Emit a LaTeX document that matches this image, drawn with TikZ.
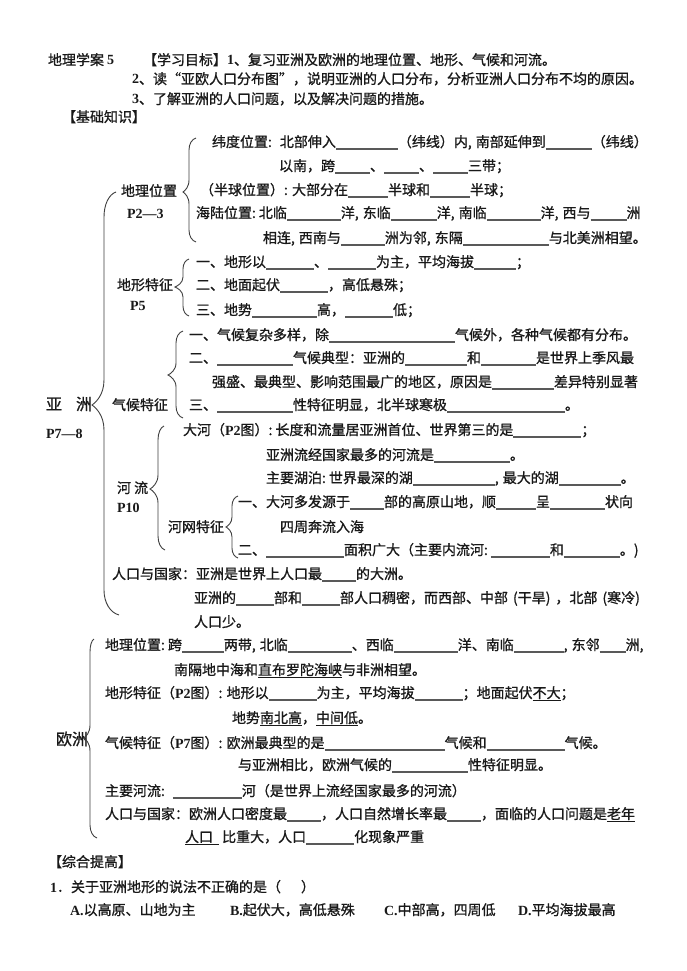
\documentclass[tikz,border=0pt]{standalone}
\usepackage{fontspec}
\setmainfont{Noto Sans CJK SC}[FakeBold=1]
\newfontfamily\latfont{Liberation Serif}[BoldFont={Liberation Serif Bold}]
\newcommand{\la}[1]{{\latfont\bfseries #1}}
\newcommand{\blk}[1]{\textcolor{black!65}{\rule[-2.5pt]{#1pt}{1.1pt}}}
\newcommand{\unl}[1]{\underline{#1}}
\newcommand{\cm}{,\hspace{4pt}}
\newcommand{\cl}{:\hspace{3pt}}
% left brace: end x, top y, stem x, tip x, tip y, bottom y, bottom end x, radius
\newcommand{\leftbr}[8]{%
  \draw[brace] (#1,#2) .. controls ({#3+0.4*(#1-#3)},{#2+0.1*#8}) and (#3,{#2+0.5*#8}) .. (#3,{#2+#8})
    -- (#3,{#5-#8}) .. controls (#3,{#5-0.4*#8}) and ({#4+0.3*(#3-#4)},{#5-0.1*#8}) .. (#4,#5)
    .. controls ({#4+0.3*(#3-#4)},{#5+0.1*#8}) and (#3,{#5+0.4*#8}) .. (#3,{#5+#8})
    -- (#3,{#6-#8}) .. controls (#3,{#6-0.5*#8}) and ({#3+0.4*(#7-#3)},{#6-0.1*#8}) .. (#7,#6);}
\tikzset{
  txt/.style={anchor=base west,inner sep=0pt,outer sep=0pt,font=\fontsize{14}{14}\selectfont,text=black!90},
  big/.style={txt,font=\fontsize{16}{16}\selectfont},
  brace/.style={draw=black!75,line width=0.9pt},
}
\begin{document}
\begin{tikzpicture}[x=1pt,y=-1pt]
  \useasboundingbox[fill=white] (0,0) rectangle (687,971);
  % head
  \node[txt] (title) at (48,65) {地理学案 \la{5}};
  \node[txt] (goal1) at (143,65) {【学习目标】\la{1}、复习亚洲及欧洲的地理位置、地形、气候和河流。};
  \node[txt] (goal2) at (132,84) {\la{2}、读“亚欧人口分布图”，说明亚洲的人口分布，分析亚洲人口分布不均的原因。};
  \node[txt] (goal3) at (132,104) {\la{3}、了解亚洲的人口问题，以及解决问题的措施。};
  \node[txt] (basic) at (62,122) {【基础知识】};
  % asia
  \node[big] (asia) at (46,410) {亚\hspace{14pt}洲};
  \node[txt] (asiap) at (46,438) {\la{P7—8}};
  \leftbr{116}{192}{104}{92}{405}{615}{119}{25}
  % position
  \node[txt] (pos) at (121,196) {地理位置};
  \node[txt] (posp) at (127,218) {\la{P2—3}};
  \leftbr{196}{138}{189}{183}{192}{242}{196}{12}
  \node[txt] (lat1) at (212,147) {纬度位置\cl\hspace{5pt}北部伸入\blk{62}（纬线）内,\hspace{4pt}南部延伸到\blk{46}（纬线）};
  \node[txt] (lat2) at (279,171) {以南，跨\blk{35}、\blk{35}、\blk{35}三带；};
  \node[txt] (hemi) at (200,195) {（半球位置）: 大部分在\blk{40}半球和\blk{40}半球；};
  \node[txt] (sea1) at (196,218) {海陆位置\cl 北临\blk{54}洋\cm 东临\blk{46}洋\cm 南临\blk{54}洋\cm 西与\blk{36}洲};
  \node[txt] (sea2) at (263,243) {相连\cm 西南与\blk{44}洲为邻\cm 东隔\blk{86}与北美洲相望。};
  % terrain
  \node[txt] (ter) at (117,290) {地形特征};
  \node[txt] (terp) at (130,310) {\la{P5}};
  \leftbr{189}{259}{183}{175}{287}{316}{189}{10}
  \node[txt] (ter1) at (196,267) {一、地形以\blk{48}、\blk{48}为主，平均海拔\blk{42}；};
  \node[txt] (ter2) at (196,290) {二、地面起伏\blk{48}，高低悬殊；};
  \node[txt] (ter3) at (196,315) {三、地势\blk{65}高，\blk{48}低；};
  % climate
  \node[txt] (cli) at (112,410) {气候特征};
  \leftbr{183}{331}{176}{168}{375}{418}{183}{12}
  \node[txt] (cli1) at (189,340) {一、气候复杂多样，除\blk{126}气候外，各种气候都有分布。};
  \node[txt] (cli2) at (189,363) {二、\blk{76}气候典型：亚洲的\blk{62}和\blk{55}是世界上季风最};
  \node[txt] (cli3) at (212,387) {强盛、最典型、影响范围最广的地区，原因是\blk{62}差异特别显著};
  \node[txt] (cli4) at (189,410) {三、\blk{76}性特征明显，北半球寒极\blk{118}。};
  % rivers
  \node[txt] (riv) at (117,493) {河 流};
  \node[txt] (rivp) at (117,512) {\la{P10}};
  \leftbr{164}{426}{158}{150}{489}{550}{165}{14}
  \node[txt] (riv1) at (183,435) {大河（\la{P2}图）\cl 长度和流量居亚洲首位、世界第三的是\blk{68}；};
  \node[txt] (riv2) at (266,460) {亚洲流经国家最多的河流是\blk{76}。};
  \node[txt] (lake) at (266,483) {主要湖泊\cl 世界最深的湖\blk{82}\cm 最大的湖\blk{62}。};
  \node[txt] (net) at (168,532) {河网特征};
  \leftbr{238}{496}{232}{226}{527}{558}{238}{10}
  \node[txt] (net1) at (238,507) {一、大河多发源于\blk{34}部的高原山地，顺\blk{40}呈\blk{55}状向};
  \node[txt] (net2) at (280,532) {四周奔流入海};
  \node[txt] (net3) at (238,555) {二、\blk{78}面积广大（主要内流河\cl\blk{59}和\blk{56}。)};
  % people
  \node[txt] (peo1) at (112,579) {人口与国家：亚洲是世界上人口最\blk{34}的大洲。};
  \node[txt] (peo2) at (194,603) {亚洲的\blk{38}部和\blk{38}部人口稠密，而西部、中部\hspace{5pt}(干旱)\hspace{5pt}，北部\hspace{5pt}(寒冷)};
  \node[txt] (peo3) at (194,627) {人口少。};
  % europe
  \node[big] (euro) at (56,745) {欧洲};
  \leftbr{94}{639}{90}{84}{738}{838}{97}{13}
  \node[txt] (eu1) at (105,650) {地理位置\cl 跨\blk{42}两带\cm 北临\blk{64}、西临\blk{64}洋、南临\blk{50}\cm 东邻\blk{26}洲,};
  \node[txt] (eu2) at (174,675) {南隔地中海和\unl{直布罗陀海峡}与非洲相望。};
  \node[txt] (eu3) at (105,698) {地形特征（\la{P2}图）: 地形以\blk{48}为主，平均海拔\blk{48}；地面起伏\unl{不大}；};
  \node[txt] (eu4) at (232,723) {地势\unl{南北高}，\unl{中间低}。};
  \node[txt] (eu5) at (105,748) {气候特征（\la{P7}图）: 欧洲最典型的是\blk{120}气候和\blk{78}气候。};
  \node[txt] (eu6) at (238,770) {与亚洲相比，欧洲气候的\blk{76}性特征明显。};
  \node[txt] (eu7) at (105,796) {主要河流\cl\hspace{5pt}\blk{69}河（是世界上流经国家最多的河流）};
  \node[txt] (eu8) at (105,819) {人口与国家：欧洲人口密度最\blk{34}，人口自然增长率最\blk{34}，面临的人口问题是\unl{老年}};
  \node[txt] (eu9) at (185,842) {\unl{人口\hspace{6pt}} 比重大，人口\blk{48}化现象严重};
  % test
  \node[txt] (sum) at (48,867) {【综合提高】};
  \node[txt] (q1) at (50,892) {\la{1}．关于亚洲地形的说法不正确的是（\hspace{20pt}）};
  \node[txt] (qa) at (70,915) {\la{A.}以高原、山地为主};
  \node[txt] (qb) at (230,915) {\la{B.}起伏大，高低悬殊};
  \node[txt] (qc) at (384,915) {\la{C.}中部高，四周低};
  \node[txt] (qd) at (518,915) {\la{D.}平均海拔最高};
\end{tikzpicture}
\end{document}
